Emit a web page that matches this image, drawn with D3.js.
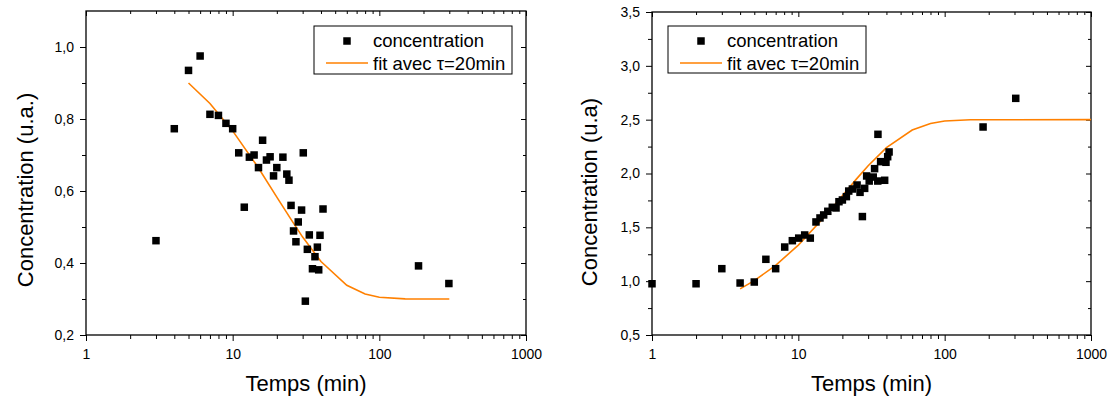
<!DOCTYPE html>
<html><head><meta charset="utf-8">
<script src="https://cdn.jsdelivr.net/npm/d3@7"></script>
<style>
body{margin:0;background:#fff}
text{font-family:"Liberation Sans",Arial,sans-serif;fill:#000}
</style>
</head><body>
<svg id="chart" width="1113" height="399"></svg>
<script>
// ---------- DATA ----------
const leftTime = [3,4,5,6,7,8,9,10,11,12,13,14,15,16,17,18,19,20,22,23.4,24.2,25,26,27,28,29.5,30.3,31.3,32.3,33.3,35,36.4,37.8,38.6,39.4,41.3,185,298];
const leftConc = [0.462,0.773,0.935,0.975,0.813,0.81,0.788,0.773,0.706,0.555,0.694,0.70,0.665,0.741,0.686,0.695,0.642,0.665,0.694,0.647,0.63,0.56,0.489,0.459,0.514,0.547,0.706,0.294,0.438,0.478,0.384,0.4175,0.444,0.381,0.477,0.55,0.392,0.343];
const leftFitTime = [5,7,10,15,20,25,30,40,60,80,100,150,200,300];
const leftFitConc = [0.9,0.843,0.767,0.664,0.583,0.521,0.472,0.404,0.338,0.314,0.305,0.3004,0.3001,0.300];

const rightTime = [1,2,3,4,5,6,7,8.07,9.1,10.06,11.05,12.07,13.2,14.06,14.9,15.9,17.06,18.1,18.95,20,21.3,22.1,23.4,25.2,26.4,27.4,28.4,29.3,30.5,32.5,33.2,34.9,35,36.5,38.9,39.7,40.8,41.7,183,306];
const rightConc = [0.976,0.976,1.116,0.983,0.992,1.203,1.116,1.317,1.376,1.40,1.429,1.40,1.55,1.587,1.615,1.649,1.686,1.68,1.738,1.754,1.785,1.837,1.856,1.893,1.825,1.60,1.862,1.977,1.93,1.967,2.045,1.93,2.364,2.11,1.937,2.104,2.156,2.20,2.432,2.698];
const rightFitTime = [4,5,7,10,15,20,25,30,40,60,80,100,150,1000];
const rightFitConc = [0.928,1.005,1.147,1.335,1.593,1.794,1.95,2.072,2.24,2.404,2.465,2.487,2.499,2.5];

const xMajorTicks = [1,10,100,1000];
const xMajorLabels = ["1","10","100","1000"];
const leftYTicks = [0.2,0.4,0.6,0.8,1.0];
const leftYLabels = ["0,2","0,4","0,6","0,8","1,0"];
const leftYMinor = [0.3,0.5,0.7,0.9];
const rightYTicks = [0.5,1.0,1.5,2.0,2.5,3.0,3.5];
const rightYLabels = ["0,5","1,0","1,5","2,0","2,5","3,0","3,5"];
const rightYMinor = [0.75,1.25,1.75,2.25,2.75,3.25];
const legendLabels = ["concentration","fit avec τ=20min"];
const xTitle = "Temps (min)";
const leftYTitle = "Concentration (u.a.)";
const rightYTitle = "Concentration (u.a)";

// ---------- DRAWING ----------
const svg = d3.select("#chart");
const ORANGE = "#ff8000";
const FONT = "Liberation Sans, Arial, sans-serif";
const xMinor = [];
[1,10,100].forEach(d => { for (let k = 2; k <= 9; k++) xMinor.push(d*k); });

function panel(o) {
  const g = svg.append("g");
  const bottom = 335;
  const x = d3.scaleLog().domain([1,1000]).range([o.x0, o.x1]);
  const y = d3.scaleLinear().domain(o.yDom).range([bottom, o.yTop]);
  const clean = sel => {
    sel.attr("font-family", FONT).attr("font-size", 14);
    sel.select(".domain").remove();
    sel.selectAll("line").attr("stroke","#000").attr("stroke-width",1);
    sel.selectAll("text").attr("fill","#000");
  };

  // bottom axis
  g.append("g").attr("transform",`translate(0,${bottom})`)
    .call(d3.axisBottom(x).tickValues(xMajorTicks).tickSize(6).tickPadding(8)
      .tickFormat((d,i)=>xMajorLabels[i]))
    .call(clean);
  g.append("g").attr("transform",`translate(0,${bottom})`)
    .call(d3.axisBottom(x).tickValues(xMinor).tickSize(4).tickFormat("")).call(clean);
  // top axis (inward)
  g.append("g").attr("transform",`translate(0,${o.yTop})`)
    .call(d3.axisBottom(x).tickValues(xMajorTicks).tickSize(5).tickFormat("")).call(clean);
  g.append("g").attr("transform",`translate(0,${o.yTop})`)
    .call(d3.axisBottom(x).tickValues(xMinor).tickSize(3).tickFormat("")).call(clean);
  // left axis
  g.append("g").attr("transform",`translate(${o.x0},0)`)
    .call(d3.axisLeft(y).tickValues(o.yTicks).tickSize(6).tickPadding(6)
      .tickFormat((d,i)=>o.yLabels[i]))
    .call(clean);
  g.append("g").attr("transform",`translate(${o.x0},0)`)
    .call(d3.axisLeft(y).tickValues(o.yMinor).tickSize(4).tickFormat("")).call(clean);
  // right axis (inward)
  g.append("g").attr("transform",`translate(${o.x1},0)`)
    .call(d3.axisLeft(y).tickValues(o.yTicks).tickSize(5).tickFormat("")).call(clean);
  g.append("g").attr("transform",`translate(${o.x1},0)`)
    .call(d3.axisLeft(y).tickValues(o.yMinor).tickSize(3).tickFormat("")).call(clean);

  // frame
  g.append("rect").attr("x",o.x0).attr("y",o.yTop).attr("width",o.x1-o.x0).attr("height",bottom-o.yTop)
    .attr("fill","none").attr("stroke","#000").attr("stroke-width",1.3);

  // fit line
  const fit = o.fitT.map((t,i)=>[t,o.fitC[i]]);
  g.append("path").datum(fit)
    .attr("d", d3.line().x(d=>x(d[0])).y(d=>y(d[1])))
    .attr("fill","none").attr("stroke",ORANGE).attr("stroke-width",1.6);

  // points
  const S = 7.5;
  const pts = o.t.map((t,i)=>[t,o.c[i]]);
  g.append("g").selectAll("rect").data(pts).join("rect")
    .attr("x",d=>x(d[0])-S/2).attr("y",d=>y(d[1])-S/2).attr("width",S).attr("height",S).attr("fill","#000");

  // titles
  g.append("text").attr("x",(o.x0+o.x1)/2).attr("y",391).attr("text-anchor","middle")
    .attr("font-size",22).text(xTitle);
  g.append("text").attr("transform",`translate(${o.titleX},${o.titleY}) rotate(-90)`)
    .attr("text-anchor","middle").attr("font-size",22).text(o.yTitle);

  // legend
  const L = o.legend;
  g.append("rect").attr("x",L.x).attr("y",L.y).attr("width",L.w).attr("height",L.h)
    .attr("fill","#fff").attr("stroke","#000").attr("stroke-width",1);
  g.append("rect").attr("x",L.x+33-S/2).attr("y",L.y+15-S/2).attr("width",S).attr("height",S).attr("fill","#000");
  g.append("line").attr("x1",L.x+12).attr("x2",L.x+54).attr("y1",L.y+37).attr("y2",L.y+37)
    .attr("stroke",ORANGE).attr("stroke-width",1.6);
  g.append("text").attr("x",L.x+59).attr("y",L.y+21).attr("font-size",18.5).text(legendLabels[0]);
  g.append("text").attr("x",L.x+59).attr("y",L.y+44).attr("font-size",18.5).text(legendLabels[1]);
}

panel({x0:86, x1:526, yTop:11, yDom:[0.2,1.1], yTicks:leftYTicks, yLabels:leftYLabels, yMinor:leftYMinor,
  t:leftTime, c:leftConc, fitT:leftFitTime, fitC:leftFitConc, yTitle:leftYTitle, titleX:33, titleY:190,
  legend:{x:314, y:26, w:198, h:48}});
panel({x0:652, x1:1091, yTop:12, yDom:[0.5,3.5], yTicks:rightYTicks, yLabels:rightYLabels, yMinor:rightYMinor,
  t:rightTime, c:rightConc, fitT:rightFitTime, fitC:rightFitConc, yTitle:rightYTitle, titleX:597, titleY:192,
  legend:{x:668, y:26, w:198, h:47}});
</script>
</body></html>
